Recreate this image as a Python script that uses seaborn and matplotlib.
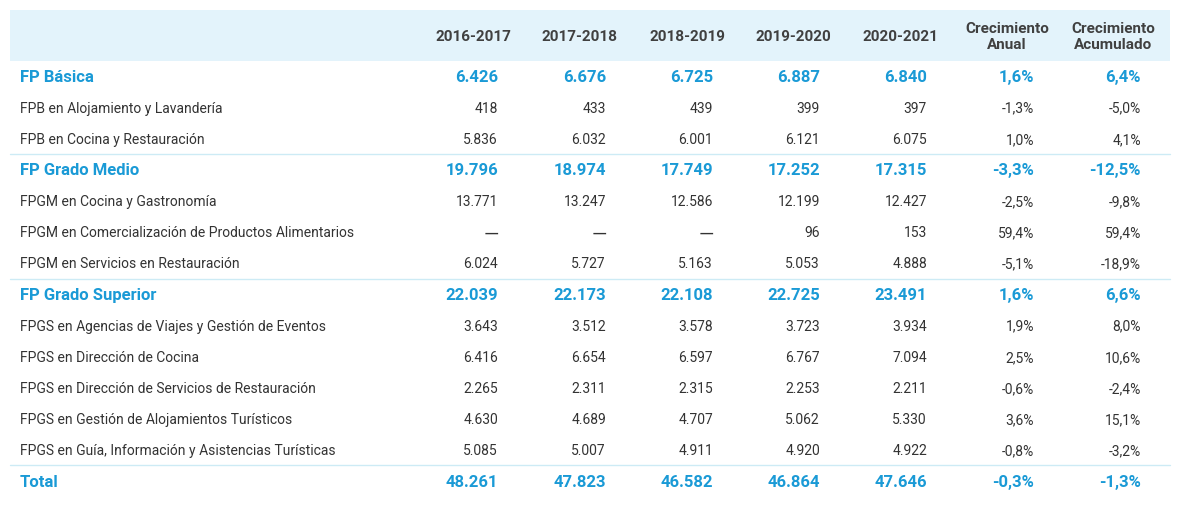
import matplotlib
matplotlib.use("Agg")
import matplotlib.pyplot as plt
import seaborn as sns

sns.set_theme(style="white")
plt.rcParams['font.family'] = ['Roboto', 'DejaVu Sans']

headers = ["2016-2017", "2017-2018", "2018-2019", "2019-2020", "2020-2021",
           "Crecimiento\nAnual", "Crecimiento\nAcumulado"]
rows = ["FP Básica", "FPB en Alojamiento y Lavandería", "FPB en Cocina y Restauración",
        "FP Grado Medio", "FPGM en Cocina y Gastronomía",
        "FPGM en Comercialización de Productos Alimentarios",
        "FPGM en Servicios en Restauración", "FP Grado Superior",
        "FPGS en Agencias de Viajes y Gestión de Eventos", "FPGS en Dirección de Cocina",
        "FPGS en Dirección de Servicios de Restauración",
        "FPGS en Gestión de Alojamientos Turísticos",
        "FPGS en Guía, Información y Asistencias Turísticas", "Total"]
is_group = [True, False, False, True, False, False, False, True,
            False, False, False, False, False, True]
v2016 = ["6.426", "418", "5.836", "19.796", "13.771", "—", "6.024", "22.039",
         "3.643", "6.416", "2.265", "4.630", "5.085", "48.261"]
v2017 = ["6.676", "433", "6.032", "18.974", "13.247", "—", "5.727", "22.173",
         "3.512", "6.654", "2.311", "4.689", "5.007", "47.823"]
v2018 = ["6.725", "439", "6.001", "17.749", "12.586", "—", "5.163", "22.108",
         "3.578", "6.597", "2.315", "4.707", "4.911", "46.582"]
v2019 = ["6.887", "399", "6.121", "17.252", "12.199", "96", "5.053", "22.725",
         "3.723", "6.767", "2.253", "5.062", "4.920", "46.864"]
v2020 = ["6.840", "397", "6.075", "17.315", "12.427", "153", "4.888", "23.491",
         "3.934", "7.094", "2.211", "5.330", "4.922", "47.646"]
anual = ["1,6%", "-1,3%", "1,0%", "-3,3%", "-2,5%", "59,4%", "-5,1%", "1,6%",
         "1,9%", "2,5%", "-0,6%", "3,6%", "-0,8%", "-0,3%"]
acum = ["6,4%", "-5,0%", "4,1%", "-12,5%", "-9,8%", "59,4%", "-18,9%", "6,6%",
        "8,0%", "10,6%", "-2,4%", "15,1%", "-3,2%", "-1,3%"]

BLUE = "#1a9ad6"
GRAY = "#333333"
HEAD_BG = "#e3f3fb"
LINE = "#cdebf5"

W, H = 1180, 508
fig = plt.figure(figsize=(W / 100, H / 100), dpi=100)
ax = fig.add_axes([0, 0, 1, 1])
ax.set_xlim(0, W)
ax.set_ylim(H, 0)
ax.axis("off")

ax.add_patch(plt.Rectangle((10, 10), 1160, 51, color=HEAD_BG, lw=0))

col_right = [498, 606, 713, 820, 927, 1034, 1141]
head_center = [473, 580, 687, 793, 900, 1007, 1113]
for hc, h in zip(head_center, headers):
    ax.text(hc, 37, h, ha="center", va="center", fontsize=11, fontweight="bold",
            color="#404040", linespacing=1.25)

cols = [v2016, v2017, v2018, v2019, v2020, anual, acum]
row_y0, row_h = 77.5, 31.15
for i, name in enumerate(rows):
    y = row_y0 + i * row_h
    g = is_group[i]
    c = BLUE if g else GRAY
    fw = "bold" if g else "normal"
    fs = 12 if g else 10
    ax.text(20, y, name, ha="left", va="center", fontsize=fs, fontweight=fw, color=c)
    for xr, col in zip(col_right, cols):
        txt = col[i]
        if txt == "—":
            ax.text(xr + 1, y + 1, txt, ha="right", va="center", fontsize=14,
                    fontweight="normal", color=GRAY)
        else:
            ax.text(xr, y, txt, ha="right", va="center", fontsize=fs, fontweight=fw, color=c)
    if g and i > 0:
        ax.plot([10, 1170], [y - 17, y - 17], color=LINE, lw=1)

fig.savefig("out.png", dpi=100)
